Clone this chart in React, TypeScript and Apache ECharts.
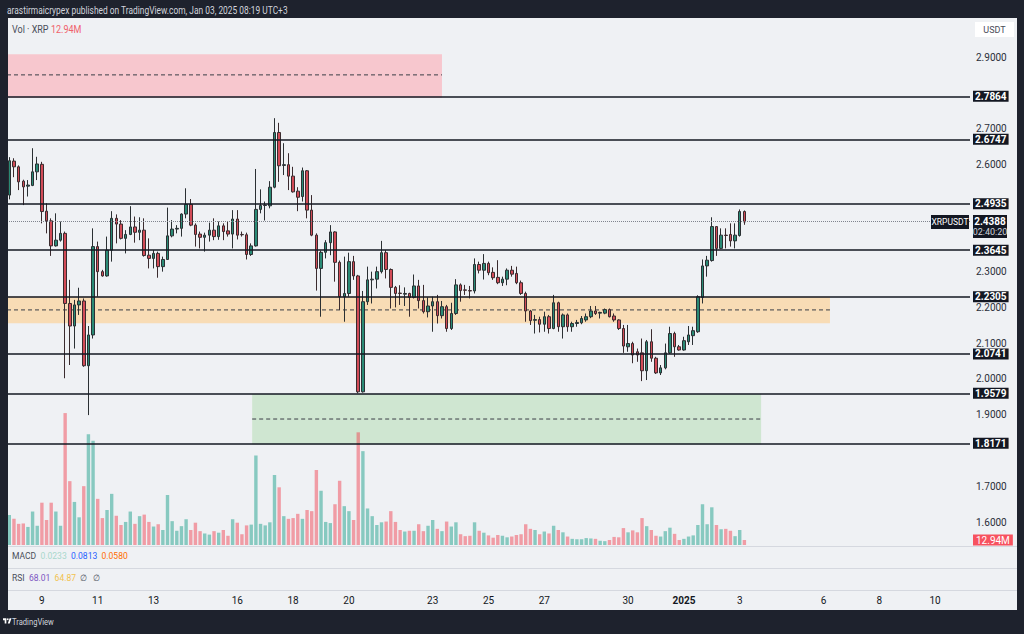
import React, { useEffect, useRef } from "react";
import * as echarts from "echarts";

// ---------- data ----------
const SLOT_COUNT = 207; // 4h slots shown on the time axis (incl. empty future space)

// [open, close, low, high] per 4h candle, XRPUSDT
const ohlc: number[][] = [
  [2.514, 2.610, 2.502, 2.620], [2.609, 2.593, 2.564, 2.617], [2.593, 2.551, 2.528, 2.597], [2.553, 2.537, 2.486, 2.557],
  [2.539, 2.542, 2.510, 2.556], [2.541, 2.579, 2.539, 2.645], [2.579, 2.601, 2.556, 2.621], [2.600, 2.468, 2.435, 2.607],
  [2.469, 2.442, 2.407, 2.491], [2.442, 2.372, 2.344, 2.449], [2.372, 2.388, 2.370, 2.463], [2.388, 2.407, 2.384, 2.440],
  [2.407, 2.211, 2.002, 2.412], [2.211, 2.148, 2.039, 2.277], [2.148, 2.207, 2.085, 2.221], [2.207, 2.218, 2.179, 2.255],
  [2.218, 2.037, 2.034, 2.225], [2.037, 2.123, 1.899, 2.148], [2.123, 2.370, 2.113, 2.421], [2.370, 2.300, 2.230, 2.384],
  [2.300, 2.288, 2.286, 2.305], [2.288, 2.360, 2.286, 2.398], [2.360, 2.449, 2.328, 2.469], [2.449, 2.433, 2.379, 2.460],
  [2.433, 2.393, 2.390, 2.444], [2.393, 2.404, 2.351, 2.416], [2.404, 2.425, 2.402, 2.483], [2.425, 2.410, 2.381, 2.454],
  [2.410, 2.416, 2.388, 2.452], [2.416, 2.345, 2.342, 2.449], [2.346, 2.337, 2.309, 2.393], [2.337, 2.351, 2.309, 2.360],
  [2.351, 2.314, 2.283, 2.356], [2.314, 2.334, 2.300, 2.342], [2.334, 2.400, 2.333, 2.479], [2.400, 2.419, 2.396, 2.444],
  [2.419, 2.421, 2.407, 2.430], [2.421, 2.461, 2.398, 2.463], [2.461, 2.488, 2.449, 2.533], [2.488, 2.430, 2.427, 2.503],
  [2.430, 2.404, 2.370, 2.435], [2.405, 2.396, 2.365, 2.412], [2.396, 2.402, 2.356, 2.409], [2.402, 2.416, 2.384, 2.437],
  [2.416, 2.398, 2.388, 2.449], [2.398, 2.428, 2.389, 2.440], [2.428, 2.412, 2.388, 2.435], [2.414, 2.405, 2.398, 2.440],
  [2.405, 2.447, 2.365, 2.472], [2.447, 2.402, 2.390, 2.472], [2.404, 2.403, 2.398, 2.412], [2.403, 2.348, 2.334, 2.409],
  [2.348, 2.372, 2.344, 2.379], [2.372, 2.474, 2.370, 2.587], [2.474, 2.485, 2.463, 2.530], [2.485, 2.486, 2.443, 2.496],
  [2.484, 2.536, 2.477, 2.553], [2.536, 2.689, 2.533, 2.729], [2.689, 2.596, 2.551, 2.716], [2.597, 2.599, 2.570, 2.659],
  [2.599, 2.567, 2.528, 2.631], [2.567, 2.523, 2.521, 2.593], [2.525, 2.508, 2.469, 2.536], [2.510, 2.582, 2.496, 2.591],
  [2.582, 2.472, 2.449, 2.584], [2.472, 2.402, 2.399, 2.514], [2.402, 2.309, 2.247, 2.407], [2.309, 2.354, 2.174, 2.359],
  [2.354, 2.381, 2.337, 2.388], [2.381, 2.411, 2.346, 2.430], [2.411, 2.326, 2.272, 2.413], [2.326, 2.230, 2.193, 2.331],
  [2.230, 2.239, 2.160, 2.342], [2.239, 2.328, 2.230, 2.353], [2.328, 2.288, 2.277, 2.344], [2.288, 1.964, 1.960, 2.291],
  [1.964, 2.216, 1.962, 2.246], [2.216, 2.277, 2.207, 2.314], [2.277, 2.279, 2.211, 2.300], [2.279, 2.300, 2.253, 2.314],
  [2.300, 2.353, 2.295, 2.386], [2.353, 2.306, 2.281, 2.360], [2.306, 2.256, 2.197, 2.309], [2.256, 2.239, 2.200, 2.260],
  [2.240, 2.239, 2.207, 2.262], [2.237, 2.239, 2.204, 2.256], [2.239, 2.228, 2.174, 2.241], [2.228, 2.260, 2.225, 2.292],
  [2.260, 2.219, 2.197, 2.277], [2.219, 2.188, 2.183, 2.263], [2.188, 2.204, 2.172, 2.228], [2.204, 2.216, 2.132, 2.230],
  [2.216, 2.177, 2.155, 2.235], [2.177, 2.202, 2.169, 2.218], [2.202, 2.141, 2.132, 2.207], [2.141, 2.183, 2.137, 2.213],
  [2.183, 2.263, 2.179, 2.279], [2.263, 2.247, 2.216, 2.267], [2.249, 2.248, 2.235, 2.263], [2.247, 2.246, 2.225, 2.260],
  [2.246, 2.320, 2.239, 2.337], [2.320, 2.304, 2.295, 2.328], [2.304, 2.323, 2.278, 2.349], [2.323, 2.297, 2.290, 2.328],
  [2.298, 2.283, 2.277, 2.312], [2.284, 2.269, 2.265, 2.332], [2.269, 2.279, 2.260, 2.286], [2.279, 2.304, 2.262, 2.309],
  [2.304, 2.293, 2.286, 2.316], [2.295, 2.269, 2.265, 2.314], [2.269, 2.239, 2.235, 2.275], [2.239, 2.190, 2.160, 2.244],
  [2.190, 2.163, 2.151, 2.193], [2.164, 2.166, 2.127, 2.179], [2.166, 2.153, 2.130, 2.174], [2.153, 2.174, 2.132, 2.188],
  [2.174, 2.141, 2.127, 2.179], [2.141, 2.213, 2.139, 2.235], [2.213, 2.146, 2.132, 2.216], [2.146, 2.179, 2.113, 2.183],
  [2.179, 2.146, 2.132, 2.183], [2.146, 2.155, 2.132, 2.160], [2.155, 2.158, 2.146, 2.165], [2.157, 2.169, 2.153, 2.176],
  [2.165, 2.174, 2.160, 2.183], [2.174, 2.190, 2.170, 2.204], [2.190, 2.183, 2.179, 2.204], [2.184, 2.186, 2.169, 2.188],
  [2.184, 2.194, 2.181, 2.197], [2.194, 2.174, 2.172, 2.197], [2.176, 2.165, 2.160, 2.183], [2.165, 2.141, 2.137, 2.167],
  [2.141, 2.092, 2.073, 2.151], [2.090, 2.099, 2.076, 2.151], [2.099, 2.067, 2.044, 2.104], [2.076, 2.067, 2.048, 2.085],
  [2.073, 2.023, 1.994, 2.113], [2.023, 2.104, 1.997, 2.109], [2.104, 2.058, 2.048, 2.139], [2.058, 2.017, 2.014, 2.062],
  [2.017, 2.031, 2.011, 2.039], [2.031, 2.073, 2.027, 2.099], [2.073, 2.127, 2.070, 2.146], [2.127, 2.090, 2.062, 2.132],
  [2.090, 2.081, 2.079, 2.095], [2.081, 2.107, 2.079, 2.118], [2.104, 2.123, 2.095, 2.148], [2.121, 2.135, 2.095, 2.146],
  [2.132, 2.230, 2.129, 2.234], [2.228, 2.316, 2.211, 2.334], [2.316, 2.332, 2.286, 2.344], [2.331, 2.426, 2.328, 2.452],
  [2.426, 2.365, 2.344, 2.427], [2.365, 2.402, 2.363, 2.421], [2.402, 2.401, 2.365, 2.421], [2.404, 2.386, 2.370, 2.435],
  [2.386, 2.402, 2.365, 2.435], [2.401, 2.468, 2.398, 2.474], [2.468, 2.4388, 2.431, 2.471],
];

// volume per candle, millions of XRP
const volumesM: number[] = [
  78, 68, 55, 56, 47, 87, 50, 110, 65, 110,
  87, 50, 343, 166, 112, 72, 153, 288, 271, 120,
  70, 91, 133, 76, 52, 60, 87, 55, 75, 79,
  60, 48, 54, 39, 130, 62, 37, 49, 67, 39,
  58, 36, 30, 27, 36, 32, 39, 24, 67, 58,
  28, 51, 53, 233, 55, 51, 59, 182, 150, 75,
  68, 70, 81, 68, 91, 88, 195, 141, 60, 57,
  106, 167, 101, 88, 65, 293, 244, 95, 75, 52,
  59, 61, 88, 60, 39, 35, 37, 37, 54, 36,
  50, 65, 42, 36, 61, 48, 59, 28, 23, 24,
  59, 37, 32, 25, 19, 26, 24, 20, 22, 26,
  28, 54, 42, 39, 28, 35, 30, 50, 39, 33,
  22, 16, 15, 15, 18, 17, 16, 11, 10, 13,
  21, 20, 44, 33, 38, 33, 70, 49, 39, 24,
  22, 36, 45, 29, 13, 16, 22, 25, 52, 106,
  54, 98, 52, 41, 42, 37, 23, 39, 12.94,
];

const levelPrices = [2.7864, 2.6747, 2.4935, 2.3645, 2.2305, 2.0741, 1.9579, 1.8171];
const lastPrice = 2.4388;
const countdown = "02:40:20";

// zones: [fromSlot, toSlot, top, bottom, dashed mid]
const zoneBounds: number[][] = [
  [-0.5, 93, 2.908, 2.7864, 2.85],
  [-0.5, 176.4, 2.2305, 2.156, 2.193],
  [52.2, 161.6, 1.9579, 1.8171, 1.888],
];
const zoneColors = ["#f7c7ce", "#f8dcb5", "#cfe6d1"];

const dayTickSlots = [7, 19, 31, 49, 61, 73, 91, 103, 115, 133, 145, 157, 175, 187, 199];
const dayTickLabels = ["9", "11", "13", "16", "18", "20", "23", "25", "27", "30", "2025", "3", "6", "8", "10"];

const macdValues = ["0.0233", "0.0813", "0.0580"];
const rsiValues = ["68.01", "64.87"];

// ---------- styling ----------
const FONT = "Roboto, 'Liberation Sans', sans-serif";
const DARK = "#1e222d";
const PANEL = "#eff1f4";
const INK = "#131722";
const UP = "#2a8a75";
const DOWN = "#d24b57";
const VOL_UP = "rgba(8,153,129,0.45)";
const VOL_DOWN = "rgba(242,54,69,0.45)";

echarts.graphic.registerShape(
  "tvlogo",
  echarts.graphic.extendPath("M14 22H7V11H0V4h14v18zM28 22h-8l7.5-18h8L28 22z", {})
);

function hiddenTick(v: number) {
  if (v < 1.55 || v > 2.95) return true;
  // ticks that sit under a price tag on the scale
  if (levelPrices.some((p) => Math.abs(p - v) < 0.02)) return true;
  if (v < lastPrice && lastPrice - v < 0.05) return true;
  return false;
}

function buildOption() {
  const slots = Array.from({ length: SLOT_COUNT }, (_, i) => "s" + i);
  const labelAt: Record<number, string> = {};
  dayTickSlots.forEach((s, k) => (labelAt[s] = dayTickLabels[k]));
  const lastVol = volumesM[volumesM.length - 1];

  return {
    animation: false,
    backgroundColor: PANEL,
    textStyle: { fontFamily: FONT },
    grid: [
      { left: 7, right: 54, top: 21.23, height: 536.6 },
      { left: 7, right: 54, top: 395, height: 150 },
    ],
    xAxis: [
      { type: "category", gridIndex: 0, data: slots, show: false, boundaryGap: true },
      { type: "value", gridIndex: 0, min: -0.5, max: SLOT_COUNT - 0.5, show: false },
      {
        type: "category",
        gridIndex: 1,
        data: slots,
        boundaryGap: true,
        axisLine: { show: false },
        axisTick: { show: false },
        splitLine: { show: false },
        axisLabel: {
          interval: 0,
          margin: 50,
          color: INK,
          fontSize: 10,
          fontFamily: FONT,
          formatter: (_v: string, i: number) => {
            const t = labelAt[i];
            if (!t) return "";
            return t.length === 4 ? "{b|" + t + "}" : t;
          },
          rich: { b: { fontWeight: "bold", fontSize: 10, color: INK, fontFamily: FONT } },
        },
      },
    ],
    yAxis: [
      {
        type: "value",
        gridIndex: 0,
        position: "right",
        min: 1.5,
        max: 3.0,
        interval: 0.1,
        axisLine: { show: false },
        axisTick: { show: false },
        splitLine: { show: false },
        axisLabel: {
          color: "#2a2e39",
          fontSize: 10,
          margin: 6,
          fontFamily: FONT,
          formatter: (v: number) => (hiddenTick(v) ? "" : v.toFixed(4)),
        },
      },
      { type: "value", gridIndex: 1, min: 0, max: 390, show: false },
    ],
    series: [
      {
        type: "custom",
        name: "zones",
        xAxisIndex: 1,
        yAxisIndex: 0,
        z: 1,
        silent: true,
        encode: { x: [0, 1], y: [2, 3, 4] },
        data: zoneBounds,
        renderItem: (params: any, api: any) => {
          const x0 = api.value(0);
          const x1 = api.value(1);
          const p0 = api.coord([x0, api.value(2)]);
          const p1 = api.coord([x1, api.value(3)]);
          const m0 = api.coord([x0, api.value(4)]);
          const m1 = api.coord([x1, api.value(4)]);
          return {
            type: "group",
            children: [
              {
                type: "rect",
                shape: { x: p0[0], y: p0[1], width: p1[0] - p0[0], height: p1[1] - p0[1] },
                style: { fill: zoneColors[params.dataIndex] },
              },
              {
                type: "line",
                shape: { x1: m0[0], y1: m0[1], x2: m1[0], y2: m1[1] },
                style: { stroke: "#3a3d46", lineWidth: 1, lineDash: [4, 3] },
              },
            ],
          };
        },
      },
      {
        type: "bar",
        name: "volume",
        xAxisIndex: 2,
        yAxisIndex: 1,
        z: 2,
        barWidth: 3.4,
        silent: true,
        data: volumesM.map((v, i) => ({
          value: v,
          itemStyle: { color: ohlc[i][1] >= ohlc[i][0] ? VOL_UP : VOL_DOWN },
        })),
        markLine: {
          silent: true,
          symbol: ["none", "none"],
          lineStyle: { width: 0, color: "rgba(0,0,0,0)" },
          label: {
            show: true,
            position: "end",
            distance: 3,
            formatter: lastVol.toFixed(2) + "M",
            backgroundColor: "#f7525f",
            color: "#ffffff",
            fontSize: 10,
            fontFamily: FONT,
            padding: [1, 3, 0, 3],
          },
          data: [{ yAxis: lastVol }],
        },
      },
      {
        type: "candlestick",
        name: "XRPUSDT",
        xAxisIndex: 0,
        yAxisIndex: 0,
        z: 3,
        barWidth: 3,
        silent: true,
        data: ohlc,
        itemStyle: {
          color: UP,
          color0: DOWN,
          borderColor: "#2b3033",
          borderColor0: "#3a2b2e",
          borderWidth: 1,
        },
        markLine: {
          silent: true,
          symbol: ["none", "none"],
          lineStyle: { color: INK, width: 1.6, type: "solid" },
          label: {
            show: true,
            position: "end",
            distance: 3,
            backgroundColor: INK,
            color: "#ffffff",
            fontSize: 10,
            fontWeight: "bold",
            fontFamily: FONT,
            padding: [1, 2, 0, 2],
          },
          data: [
            ...levelPrices.map((v) => ({ yAxis: v, label: { formatter: v.toFixed(4) } })),
            {
              yAxis: lastPrice,
              lineStyle: { type: "dotted", color: "#80848e", width: 1 },
              label: { show: false },
            },
          ],
        },
      },
    ],
  };
}

function buildGraphics(yP: number) {
  const lastVol = volumesM[volumesM.length - 1];
  const txt = (x: number, y: number, text: string, fill: string, fontSize = 10, extra: any = {}) => ({
    type: "text",
    x,
    y,
    z: 100,
    silent: true,
    ...extra,
    style: { text, fill, fontSize, fontFamily: FONT, verticalAlign: "middle", align: "left", ...(extra.style || {}) },
  });
  const sep = (y: number) => ({
    type: "line",
    z: 50,
    silent: true,
    shape: { x1: 8, y1: y, x2: 1017, y2: y },
    style: { stroke: "#d5d8df", lineWidth: 1 },
  });
  const legendRich = {
    n: { fill: "#4a4e59", fontSize: 9.5, fontFamily: FONT },
    g: { fill: "#a9d8cc", fontSize: 9.5, fontFamily: FONT },
    b: { fill: "#2962ff", fontSize: 9.5, fontFamily: FONT },
    o: { fill: "#ff6d00", fontSize: 9.5, fontFamily: FONT },
    p: { fill: "#7e57c2", fontSize: 9.5, fontFamily: FONT },
    y: { fill: "#f2c14e", fontSize: 9.5, fontFamily: FONT },
  };
  return [
    // dark frame
    { type: "rect", z: 60, silent: true, shape: { x: 0, y: 0, width: 1024, height: 18 }, style: { fill: DARK } },
    { type: "rect", z: 60, silent: true, shape: { x: 0, y: 610, width: 1024, height: 24 }, style: { fill: DARK } },
    { type: "rect", z: 60, silent: true, shape: { x: 0, y: 0, width: 8, height: 634 }, style: { fill: DARK } },
    { type: "rect", z: 60, silent: true, shape: { x: 1017, y: 0, width: 7, height: 634 }, style: { fill: DARK } },
    // pane separators
    sep(546.5),
    sep(568.5),
    sep(590.5),
    // header
    txt(7, 10, "arastirmaicrypex published on TradingView.com, Jan 03, 2025 08:19 UTC+3", "#d1d4dc", 10.5, { scaleX: 0.8 }),
    // volume legend
    txt(12, 29, "Vol · XRP", "#4a4e59", 10, { scaleX: 0.9 }),
    txt(51, 29, lastVol.toFixed(2) + "M", "#f0616c", 10, { scaleX: 0.9 }),
    // currency box
    { type: "rect", z: 100, silent: true, shape: { x: 975, y: 22, width: 39, height: 15 }, style: { fill: "#ffffff" } },
    txt(994.5, 29.5, "USDT", "#4a4e59", 9, { style: { align: "center" } }),
    // MACD / RSI legends
    {
      type: "text", x: 12, y: 556, z: 100, silent: true, scaleX: 0.9,
      style: {
        text: `{n|MACD}  {g|${macdValues[0]}}  {b|${macdValues[1]}}  {o|${macdValues[2]}}`,
        rich: legendRich, verticalAlign: "middle", align: "left", fontFamily: FONT, fontSize: 9.5,
      },
    },
    {
      type: "text", x: 12, y: 578, z: 100, silent: true, scaleX: 0.9,
      style: {
        text: `{n|RSI}  {p|${rsiValues[0]}}  {y|${rsiValues[1]}}  {n|∅}  {n|∅}`,
        rich: legendRich, verticalAlign: "middle", align: "left", fontFamily: FONT, fontSize: 9.5,
      },
    },
    // last price tags
    { type: "rect", z: 100, silent: true, shape: { x: 931, y: yP - 7, width: 38, height: 14 }, style: { fill: INK } },
    txt(950, yP, "XRPUSDT", "#ffffff", 8.5, { style: { align: "center" } }),
    { type: "rect", z: 100, silent: true, shape: { x: 973, y: yP - 7, width: 34, height: 23 }, style: { fill: INK } },
    txt(990, yP, lastPrice.toFixed(4), "#ffffff", 10, { style: { align: "center", fontWeight: "bold" } }),
    txt(990, yP + 10, countdown, "#d1d4dc", 9, { style: { align: "center" } }),
    // footer logo
    { type: "tvlogo", z: 100, silent: true, x: 3, y: 617, scaleX: 0.24, scaleY: 0.3, style: { fill: "#ffffff" } },
    { type: "circle", z: 100, silent: true, shape: { cx: 7.7, cy: 619.3, r: 0.9 }, style: { fill: "#ffffff" } },
    txt(12, 622, "TradingView", "#d1d4dc", 9.5, { scaleX: 0.8 }),
  ];
}

export default function App() {
  const ref = useRef<HTMLDivElement>(null);
  useEffect(() => {
    if (!ref.current) return;
    const chart = echarts.init(ref.current, null, { renderer: "svg" });
    chart.setOption(buildOption() as any);
    const yP = chart.convertToPixel({ yAxisIndex: 0 } as any, lastPrice) as unknown as number;
    chart.setOption({ graphic: buildGraphics(yP) } as any);
    return () => chart.dispose();
  }, []);
  return (
    <div
      ref={ref}
      style={{ position: "fixed", left: 0, top: 0, width: 1024, height: 634 }}
    />
  );
}
